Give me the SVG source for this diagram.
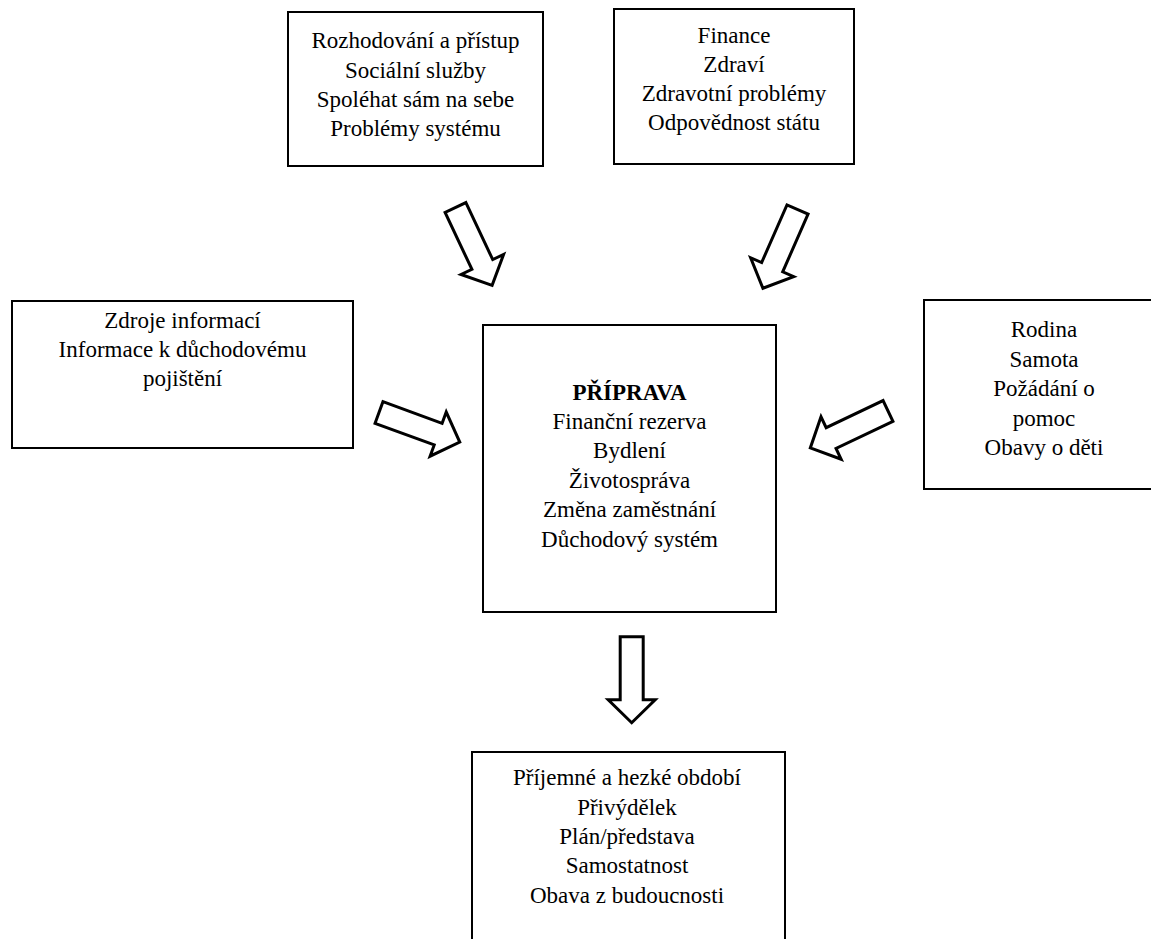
<svg xmlns="http://www.w3.org/2000/svg" width="1151" height="939" viewBox="0 0 1151 939">
<style>
.box{fill:#fff;stroke:#000;stroke-width:2}
.t{font-family:'Liberation Serif','Times New Roman',serif;font-size:23px;fill:#000;text-anchor:middle}
.b{font-weight:bold}
.arr{fill:#fff;stroke:#000;stroke-width:3;stroke-linejoin:miter}
</style>
<defs>
<path id="blk" d="M0,-11.5 L63,-11.5 L63,-23.5 L86,0 L63,23.5 L63,11.5 L0,11.5 Z"/>
</defs>
<rect width="1151" height="939" fill="#fff"/>
<g id="connectors">
<use href="#blk" class="arr" transform="translate(455.5,207.5) rotate(64.8)"/>
<use href="#blk" class="arr" transform="translate(797.5,209.5) rotate(113.7)"/>
<use href="#blk" class="arr" transform="translate(379,412.5) rotate(20.1)"/>
<use href="#blk" class="arr" transform="translate(888,411) rotate(154.6)"/>
<use href="#blk" class="arr" transform="translate(631.7,636.7) rotate(90)"/>
</g>
<g id="nodeA">
<rect class="box" x="288" y="12" width="255" height="154"/>
<text class="t" x="415.5" y="48">Rozhodování a přístup</text>
<text class="t" x="415.5" y="78">Sociální služby</text>
<text class="t" x="415.5" y="107">Spoléhat sám na sebe</text>
<text class="t" x="415.5" y="136">Problémy systému</text>
</g>
<g id="nodeB">
<rect class="box" x="614" y="9" width="240" height="155"/>
<text class="t" x="734" y="43">Finance</text>
<text class="t" x="734" y="72">Zdraví</text>
<text class="t" x="734" y="101">Zdravotní problémy</text>
<text class="t" x="734" y="130">Odpovědnost státu</text>
</g>
<g id="nodeC">
<rect class="box" x="12" y="301" width="341" height="147"/>
<text class="t" x="182.5" y="328">Zdroje informací</text>
<text class="t" x="182.5" y="357">Informace k důchodovému</text>
<text class="t" x="182.5" y="386">pojištění</text>
</g>
<g id="nodeMain">
<rect class="box" x="483" y="325" width="293" height="287"/>
<text class="t b" x="629.5" y="400">PŘÍPRAVA</text>
<text class="t" x="629.5" y="429">Finanční rezerva</text>
<text class="t" x="629.5" y="458">Bydlení</text>
<text class="t" x="629.5" y="488">Životospráva</text>
<text class="t" x="629.5" y="517">Změna zaměstnání</text>
<text class="t" x="629.5" y="547">Důchodový systém</text>
</g>
<g id="nodeD">
<rect class="box" x="924" y="300" width="245" height="189"/>
<text class="t" x="1044" y="337">Rodina</text>
<text class="t" x="1044" y="367">Samota</text>
<text class="t" x="1044" y="396">Požádání o</text>
<text class="t" x="1044" y="426">pomoc</text>
<text class="t" x="1044" y="455">Obavy o děti</text>
</g>
<g id="nodeBottom">
<rect class="box" x="472" y="752" width="313" height="200"/>
<text class="t" x="627" y="785">Příjemné a hezké období</text>
<text class="t" x="627" y="815">Přivýdělek</text>
<text class="t" x="627" y="844">Plán/představa</text>
<text class="t" x="627" y="873">Samostatnost</text>
<text class="t" x="627" y="903">Obava z budoucnosti</text>
</g>
</svg>
